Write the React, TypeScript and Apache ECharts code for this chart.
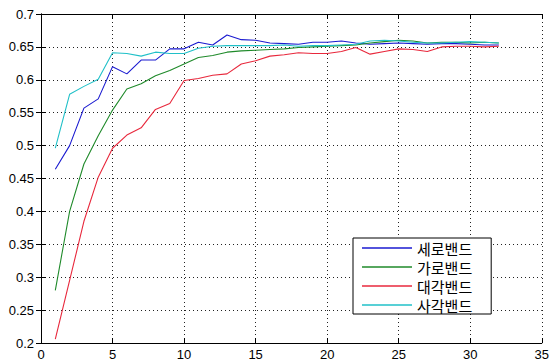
import React, { useEffect, useRef } from "react";
import * as echarts from "echarts";

const xValues = [1, 2, 3, 4, 5, 6, 7, 8, 9, 10, 11, 12, 13, 14, 15, 16, 17, 18, 19, 20, 21, 22, 23, 24, 25, 26, 27, 28, 29, 30, 31, 32];

const seriesNames = ["세로밴드", "가로밴드", "대각밴드", "사각밴드"];

const verticalBand = [0.464, 0.5, 0.557, 0.571, 0.62, 0.609, 0.63, 0.63, 0.647, 0.647, 0.657, 0.653, 0.668, 0.661, 0.66, 0.656, 0.655, 0.654, 0.657, 0.657, 0.659, 0.656, 0.654, 0.655, 0.656, 0.655, 0.654, 0.655, 0.655, 0.654, 0.653, 0.653];
const horizontalBand = [0.28, 0.4, 0.472, 0.515, 0.554, 0.586, 0.594, 0.606, 0.614, 0.624, 0.634, 0.637, 0.642, 0.644, 0.645, 0.646, 0.647, 0.649, 0.65, 0.651, 0.652, 0.653, 0.656, 0.658, 0.66, 0.659, 0.656, 0.657, 0.657, 0.656, 0.657, 0.656];
const diagonalBand = [0.206, 0.295, 0.385, 0.452, 0.496, 0.516, 0.527, 0.555, 0.564, 0.599, 0.602, 0.607, 0.609, 0.624, 0.629, 0.636, 0.638, 0.641, 0.64, 0.64, 0.643, 0.649, 0.639, 0.643, 0.647, 0.646, 0.643, 0.65, 0.651, 0.651, 0.65, 0.651];
const squareBand = [0.496, 0.578, 0.59, 0.601, 0.641, 0.64, 0.636, 0.642, 0.64, 0.64, 0.648, 0.651, 0.652, 0.652, 0.652, 0.652, 0.653, 0.651, 0.652, 0.652, 0.653, 0.654, 0.659, 0.66, 0.659, 0.657, 0.656, 0.656, 0.657, 0.658, 0.657, 0.656];

const seriesValues = [verticalBand, horizontalBand, diagonalBand, squareBand];
const seriesColors = ["#1a1ad0", "#1f8a2a", "#e8283c", "#20c0c8"];

const xTicks = { min: 0, max: 35, interval: 5 };
const yTicks = { min: 0.2, max: 0.7, interval: 0.05 };

export default function App() {
  const ref = useRef<HTMLDivElement>(null);
  useEffect(() => {
    document.body.style.margin = "0";
    if (!ref.current) return;
    const chart = echarts.init(ref.current, undefined, { renderer: "svg" });
    const labelFont = { fontFamily: "Liberation Sans, Arial, sans-serif", fontSize: 13, color: "#000" };
    const splitLine = { show: true, lineStyle: { color: "#222", type: [1, 3] as any, width: 1 } };
    const axisLine = { show: true, lineStyle: { color: "#000", width: 1 } };
    const axisTick = { show: true, inside: true, length: 5, lineStyle: { color: "#000" } };
    chart.setOption({
      animation: false,
      backgroundColor: "#fff",
      grid: { left: 41, right: 7, top: 14, bottom: 16, containLabel: false },
      xAxis: [
        {
          type: "value", ...xTicks, position: "bottom",
          axisLine, axisTick, splitLine,
          axisLabel: { ...labelFont, margin: 5 },
        },
        {
          type: "value", ...xTicks, position: "top",
          axisLine, axisTick, splitLine: { show: false },
          axisLabel: { show: false },
        },
      ],
      yAxis: [
        {
          type: "value", ...yTicks, position: "left",
          axisLine, axisTick, splitLine,
          axisLabel: { ...labelFont, margin: 7, formatter: (v: number) => String(Math.round(v * 100) / 100) },
        },
        {
          type: "value", ...yTicks, position: "right",
          axisLine, axisTick, splitLine: { show: false },
          axisLabel: { show: false },
        },
      ],
      legend: {
        show: true,
        orient: "vertical",
        left: 353,
        top: 238,
        padding: [1, 19, 0, 9],
        itemGap: 1,
        itemWidth: 50,
        itemHeight: 1.5,
        icon: "rect",
        backgroundColor: "#fff",
        borderColor: "#000",
        borderWidth: 1,
        borderRadius: 0,
        textStyle: { fontFamily: "Noto Sans CJK KR", fontSize: 15, lineHeight: 18, color: "#000" },
        data: seriesNames,
      },
      series: seriesNames.map((name, i) => ({
        name,
        type: "line",
        xAxisIndex: 0,
        yAxisIndex: 0,
        data: xValues.map((x, j) => [x, seriesValues[i][j]]),
        showSymbol: false,
        symbol: "none",
        color: seriesColors[i],
        lineStyle: { color: seriesColors[i], width: 1.1 },
      })),
    });
    return () => chart.dispose();
  }, []);
  return <div ref={ref} style={{ width: 552, height: 361, position: "fixed", left: 0, top: 0 }} />;
}
